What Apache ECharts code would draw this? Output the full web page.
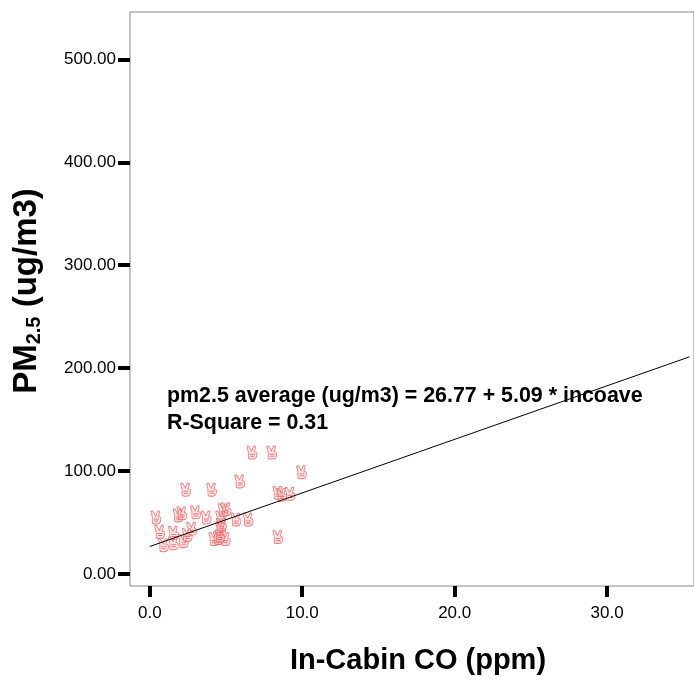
<!DOCTYPE html>
<html>
<head>
<meta charset="utf-8">
<script src="https://cdn.jsdelivr.net/npm/echarts@6/dist/echarts.min.js"></script>
<style>
  body { margin: 0; background: #fff; }
  #chart { width: 694px; height: 680px; }
</style>
</head>
<body>
<div id="chart"></div>
<script>
// in-cabin CO (ppm) and pm2.5 (ug/m3)
const coValues = [0.4, 0.65, 0.9, 1.55, 1.55, 1.85, 2.1, 2.2, 2.35, 2.45, 2.75, 3.0, 3.7, 4.05, 4.2, 4.5, 4.6, 4.65, 4.65, 4.7, 4.8, 5.0, 4.95, 5.65, 5.9, 6.45, 6.7, 8.0, 8.4, 8.65, 9.2, 8.4, 9.95];
const pmValues = [55, 41, 28, 40, 30, 57, 59, 32, 82, 38, 44, 60, 55, 82, 34, 35, 37, 55, 44, 48, 62, 63, 34, 53, 90, 53, 118, 118, 79, 77, 78, 36, 99];
// fit line ends
const fitX = [0.0, 35.4];
const fitY = [26.8, 211];
const xTicks = [0, 10, 20, 30];
const yTicks = [0, 100, 200, 300, 400, 500];

const font = 'Liberation Sans';
// little "victory hand" marker like the spss one
const handPath = 'path://M2,6 L1,1.2 Q1.3,0 2.4,0.5 L4.4,5.2 L5.9,0.5 Q7,0 7.4,1.1 L6.4,5.8 Q8.6,6.2 8.2,8.8 L7.7,11.4 Q7.2,13 5.2,13 L3.6,13 Q2,13 2,11 Z M3,8.2 L6.8,8.2 M3.2,10.2 L6.4,10.2';

const chart = echarts.init(document.getElementById('chart'));

chart.setOption({
  animation: false,
  textStyle: { fontFamily: font },
  grid: {
    left: 130, top: 12, right: -2, bottom: 93,
    show: true, borderColor: '#888', borderWidth: 1
  },
  xAxis: {
    type: 'value',
    min: -1.3, max: 35.7,
    splitLine: { show: false },
    axisLine: { show: false, onZero: false },
    axisTick: { customValues: xTicks, length: 11, lineStyle: { color: '#000', width: 4 } },
    axisLabel: {
      customValues: xTicks, margin: 19, fontSize: 17, color: '#000',
      formatter: v => v.toFixed(1)
    },
    name: 'In-Cabin CO (ppm)',
    nameLocation: 'middle',
    nameGap: 60,
    nameTextStyle: { fontSize: 29, fontWeight: 'bold', color: '#000', padding: [0, 0, 0, 12] }
  },
  yAxis: {
    type: 'value',
    min: -11.6, max: 546,
    splitLine: { show: false },
    axisLine: { show: false, onZero: false },
    axisTick: { customValues: yTicks, length: 12, lineStyle: { color: '#000', width: 4 } },
    axisLabel: {
      customValues: yTicks, margin: 14, fontSize: 17, color: '#000',
      formatter: v => v.toFixed(2)
    },
    name: '{b|PM}{s|2.5}{b| (ug/m3)}',
    nameLocation: 'middle',
    nameGap: 86,
    nameTextStyle: {
      padding: [0, 0, 0, 16],
      rich: {
        b: { fontSize: 33, fontWeight: 'bold', color: '#000', lineHeight: 34 },
        s: { fontSize: 20, fontWeight: 'bold', color: '#000', lineHeight: 34, verticalAlign: 'bottom' }
      }
    }
  },
  graphic: [
    {
      type: 'text', left: 167, top: 386,
      style: { text: 'pm2.5 average (ug/m3) = 26.77 + 5.09 * incoave', font: 'bold 21.4px ' + font, fill: '#000' }
    },
    {
      type: 'text', left: 167, top: 413,
      style: { text: 'R-Square = 0.31', font: 'bold 21.4px ' + font, fill: '#000' }
    }
  ],
  series: [
    {
      type: 'line',
      data: fitX.map((x, i) => [x, fitY[i]]),
      symbol: 'none',
      lineStyle: { color: '#000', width: 1 },
      z: 3
    },
    {
      type: 'scatter',
      data: coValues.map((x, i) => [x, pmValues[i]]),
      symbol: handPath,
      symbolSize: [10, 13],
      itemStyle: { color: 'rgba(255,180,180,0.35)', borderColor: '#f26a6a', borderWidth: 0.9, opacity: 0.9 },
      z: 2
    }
  ]
});
</script>
</body>
</html>
